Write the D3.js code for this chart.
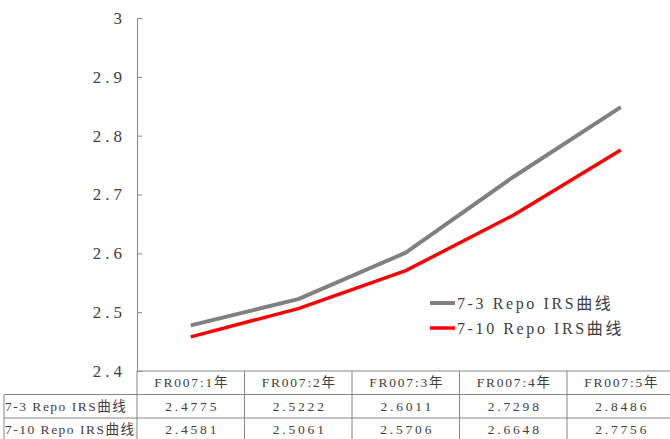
<!DOCTYPE html>
<html>
<head>
<meta charset="utf-8">
<script src="https://cdn.jsdelivr.net/npm/d3@7"></script>
<style>
  html, body { margin: 0; padding: 0; background: #fff; }
  svg text { font-family: "Liberation Serif", "Noto Sans CJK SC", serif; fill: #404040; }
</style>
</head>
<body>
<svg id="chart" width="670" height="439"></svg>
<script>
// Tenors along the curve
const categories = ["FR007:1年", "FR007:2年", "FR007:3年", "FR007:4年", "FR007:5年"];
// Series names
const seriesNames = ["7-3 Repo IRS曲线", "7-10 Repo IRS曲线"];
// Rates for each series
const repo73 = [2.4775, 2.5222, 2.6011, 2.7298, 2.8486];
const repo710 = [2.4581, 2.5061, 2.5706, 2.6648, 2.7756];
// Y axis tick values
const yTicks = [2.4, 2.5, 2.6, 2.7, 2.8, 2.9, 3];

const series = [
  { name: seriesNames[0], values: repo73, color: "#808080", width: 4 },
  { name: seriesNames[1], values: repo710, color: "#ff0000", width: 3.5 }
];

const svg = d3.select("#chart");
const plotLeft = 137, plotTop = 18, plotBottom = 371, colW = 107.5;
const plotRight = plotLeft + colW * categories.length;

const x = d3.scaleBand().domain(categories).range([plotLeft, plotRight]);
const y = d3.scaleLinear().domain([2.4, 3]).range([plotBottom, plotTop]);

const lineColor = "#868686";

// Y axis with inward ticks
const yAxis = d3.axisLeft(y).tickValues(yTicks).tickSizeInner(-5).tickSizeOuter(0).tickPadding(11)
  .tickFormat(d => d3.format("")(d));
const gy = svg.append("g").attr("transform", `translate(${plotLeft},0)`).call(yAxis);
gy.select(".domain").attr("stroke", lineColor);
gy.selectAll(".tick line").attr("stroke", lineColor);
gy.selectAll(".tick text").attr("font-size", 17).attr("fill", "#404040")
  .attr("letter-spacing", 4);

// Curves
const line = d3.line().x((d, i) => x(categories[i]) + x.bandwidth() / 2).y(d => y(d));
series.forEach(s => {
  svg.append("path").datum(s.values)
    .attr("d", line).attr("fill", "none")
    .attr("stroke", s.color).attr("stroke-width", s.width)
    .attr("stroke-linejoin", "round");
});

// Legend
const lg = svg.append("g").attr("transform", "translate(430,303)");
series.forEach((s, i) => {
  const g = lg.append("g").attr("transform", `translate(0,${i * 25})`);
  g.append("line").attr("x1", 0).attr("x2", 25).attr("stroke", s.color).attr("stroke-width", s.width);
  g.append("text").attr("x", 27).attr("dy", "0.35em").attr("font-size", 16)
    .attr("letter-spacing", 2.6).text(s.name);
});

// Data table below the plot
const rowH = 23.5, tableLeft = 4;
const rowY = [plotBottom, plotBottom + rowH, plotBottom + rowH * 2, plotBottom + rowH * 3];
const tbl = svg.append("g").attr("stroke", lineColor).attr("stroke-width", 1);
tbl.append("line").attr("x1", plotLeft).attr("x2", plotRight).attr("y1", rowY[0]).attr("y2", rowY[0]);
tbl.append("line").attr("x1", tableLeft).attr("x2", plotRight).attr("y1", rowY[1]).attr("y2", rowY[1]);
tbl.append("line").attr("x1", tableLeft).attr("x2", plotRight).attr("y1", rowY[2]).attr("y2", rowY[2]);
tbl.append("line").attr("x1", tableLeft).attr("x2", tableLeft).attr("y1", rowY[1]).attr("y2", rowY[3]);
categories.forEach(c => {
  tbl.append("line").attr("x1", x(c) + x.bandwidth()).attr("x2", x(c) + x.bandwidth())
    .attr("y1", rowY[0]).attr("y2", rowY[3]);
});
tbl.append("line").attr("x1", plotLeft).attr("x2", plotLeft).attr("y1", rowY[0]).attr("y2", rowY[3]);

const txt = svg.append("g").attr("font-size", 13.5);
categories.forEach(c => {
  txt.append("text").attr("x", x(c) + x.bandwidth() / 2 + 1).attr("y", rowY[0] + rowH / 2)
    .attr("dy", "0.35em").attr("text-anchor", "middle").attr("letter-spacing", 1.8).text(c);
});
series.forEach((s, i) => {
  const cy = rowY[i + 1] + rowH / 2;
  txt.append("text").attr("x", tableLeft + 1).attr("y", cy).attr("dy", "0.35em")
    .attr("letter-spacing", 1.5).text(s.name);
  s.values.forEach((v, j) => {
    txt.append("text").attr("x", x(categories[j]) + x.bandwidth() / 2 + 1.5).attr("y", cy)
      .attr("dy", "0.35em").attr("text-anchor", "middle").attr("letter-spacing", 2.8)
      .text(d3.format(".4f")(v));
  });
});
</script>
</body>
</html>
